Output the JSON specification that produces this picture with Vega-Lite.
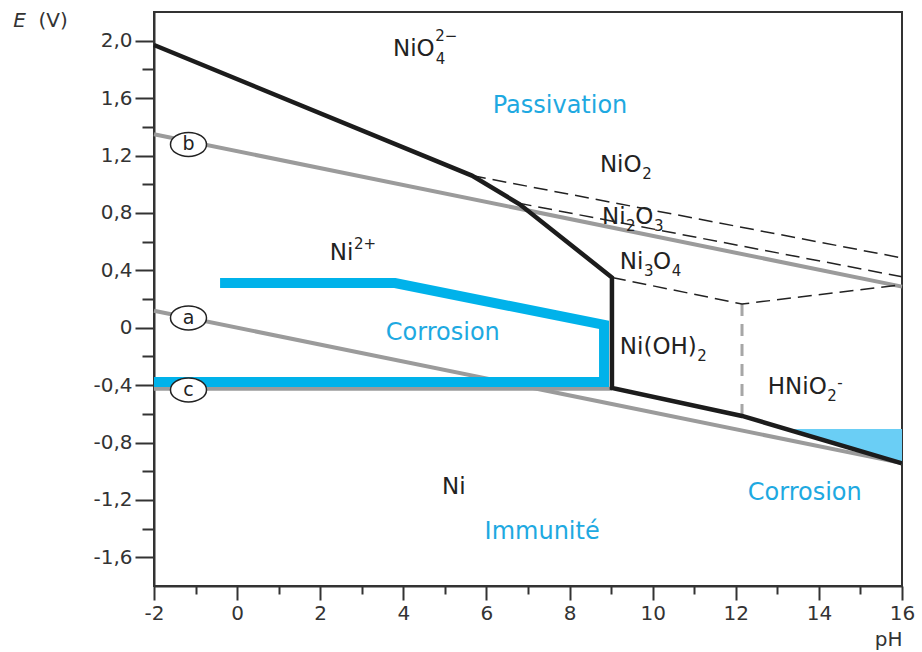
{
  "$schema": "https://vega.github.io/schema/vega-lite/v6.json",
  "width": 748,
  "height": 574,
  "autosize": {"type": "none"},
  "padding": {"left": 154, "top": 12, "right": 20, "bottom": 66},
  "background": "white",
  "config": {
    "view": {"stroke": "#333333", "strokeWidth": 2},
    "axis": {
      "domainColor": "#333333", "domainWidth": 2,
      "tickColor": "#333333", "tickWidth": 2,
      "labelFont": "DejaVu Sans", "labelFontSize": 20, "labelColor": "#333333",
      "titleFont": "DejaVu Sans", "titleFontSize": 20, "titleColor": "#333333", "titleFontWeight": "normal",
      "grid": false
    },
    "text": {"font": "DejaVu Sans"}
  },
  "datasets": {
    "fill": [
      {"x": 13.25, "y": -0.706, "y2": -0.706},
      {"x": 16, "y": -0.945, "y2": -0.706}
    ],
    "water": [
      {"line": "a", "x": -2, "y": 0.118},
      {"line": "a", "x": 16, "y": -0.944},
      {"line": "b", "x": -2, "y": 1.348},
      {"line": "b", "x": 16, "y": 0.286},
      {"line": "c", "x": -2, "y": -0.425},
      {"line": "c", "x": 9.02, "y": -0.425}
    ],
    "blue": [
      {"o": 1, "x": -0.41, "y": 0.311},
      {"o": 2, "x": 3.8, "y": 0.311},
      {"o": 3, "x": 8.83, "y": 0.02},
      {"o": 4, "x": 8.83, "y": -0.378},
      {"o": 5, "x": -2, "y": -0.378}
    ],
    "vdash": [
      {"o": 1, "x": 12.15, "y": 0.165},
      {"o": 2, "x": 12.15, "y": -0.615}
    ],
    "dashed": [
      {"line": "d1", "o": 1, "x": 5.65, "y": 1.06},
      {"line": "d1", "o": 2, "x": 16, "y": 0.486},
      {"line": "d2", "o": 1, "x": 6.75, "y": 0.869},
      {"line": "d2", "o": 2, "x": 16, "y": 0.355},
      {"line": "d3", "o": 1, "x": 9.02, "y": 0.35},
      {"line": "d3", "o": 2, "x": 12.15, "y": 0.165},
      {"line": "d3", "o": 3, "x": 16, "y": 0.3}
    ],
    "boundary": [
      {"o": 1, "x": -2, "y": 1.97},
      {"o": 2, "x": 5.65, "y": 1.06},
      {"o": 3, "x": 6.8, "y": 0.86},
      {"o": 4, "x": 9.02, "y": 0.35},
      {"o": 5, "x": 9.02, "y": -0.42},
      {"o": 6, "x": 12.15, "y": -0.615},
      {"o": 7, "x": 16, "y": -0.945}
    ],
    "circles": [
      {"t": "a", "x": -1.17, "y": 0.068},
      {"t": "b", "x": -1.17, "y": 1.277},
      {"t": "c", "x": -1.17, "y": -0.434}
    ],
    "chem": [
      {"t": "NiO", "x": 3.75, "y": 1.939},
      {"t": "NiO", "x": 8.73, "y": 1.134},
      {"t": "Ni", "x": 8.78, "y": 0.77},
      {"t": "O", "x": 9.58, "y": 0.77},
      {"t": "Ni", "x": 9.21, "y": 0.458},
      {"t": "O", "x": 10.01, "y": 0.458},
      {"t": "Ni", "x": 2.23, "y": 0.52},
      {"t": "Ni(OH)", "x": 9.21, "y": -0.134},
      {"t": "HNiO", "x": 12.77, "y": -0.413},
      {"t": "Ni", "x": 4.93, "y": -1.11}
    ],
    "small": [
      {"t": "2−", "x": 4.77, "y": 2.035},
      {"t": "4", "x": 4.78, "y": 1.87},
      {"t": "2", "x": 9.75, "y": 1.074},
      {"t": "2", "x": 9.36, "y": 0.71},
      {"t": "3", "x": 10.03, "y": 0.71},
      {"t": "3", "x": 9.79, "y": 0.398},
      {"t": "4", "x": 10.46, "y": 0.398},
      {"t": "2+", "x": 2.81, "y": 0.585},
      {"t": "2", "x": 11.07, "y": -0.194},
      {"t": "2", "x": 14.2, "y": -0.473},
      {"t": "-", "x": 14.44, "y": -0.385}
    ],
    "blueText": [
      {"t": "Passivation", "x": 7.77, "y": 1.548},
      {"t": "Corrosion", "x": 4.95, "y": -0.037},
      {"t": "Corrosion", "x": 13.66, "y": -1.152},
      {"t": "Immunité", "x": 7.34, "y": -1.424}
    ],
    "titleE": [{"t": "E", "x": -5.39, "y": 2.137}],
    "titleV": [{"t": "(V)", "x": -4.78, "y": 2.137}]
  },
  "encoding": {
    "x": {
      "field": "x", "type": "quantitative",
      "scale": {"domain": [-2, 16], "nice": false, "zero": false},
      "axis": {
        "values": [-2, -1, 0, 1, 2, 3, 4, 5, 6, 7, 8, 9, 10, 11, 12, 13, 14, 15, 16],
        "tickSize": {"condition": {"test": "datum.value % 2 == 0", "value": 14}, "value": 8},
        "labelExpr": "datum.value % 2 == 0 ? toString(datum.value) : ''",
        "labelFlush": false,
        "labelPadding": 3,
        "title": "pH",
        "titleAnchor": "end",
        "titlePadding": 6
      }
    },
    "y": {
      "field": "y", "type": "quantitative",
      "scale": {"domain": [-1.8, 2.2], "nice": false, "zero": false},
      "axis": {
        "values": [-1.6, -1.4, -1.2, -1.0, -0.8, -0.6, -0.4, -0.2, 0, 0.2, 0.4, 0.6, 0.8, 1.0, 1.2, 1.4, 1.6, 1.8, 2.0],
        "tickSize": {"condition": {"test": "abs(round(datum.value * 5)) % 2 == 0", "value": 19}, "value": 12},
        "labelExpr": "abs(round(datum.value * 5)) % 2 == 0 ? (abs(datum.value) < 0.001 ? '0' : replace(replace(format(datum.value, '.1f'), '.', ','), '−', '-')) : ''",
        "labelPadding": 3,
        "labelFlush": false,
        "title": null
      }
    }
  },
  "layer": [
    {"data": {"name": "fill"}, "mark": {"type": "area", "color": "#6ACEF5"}, "encoding": {"y2": {"field": "y2"}}},
    {"data": {"name": "water"}, "mark": {"type": "line", "color": "#9b9b9b", "strokeWidth": 4}, "encoding": {"detail": {"field": "line"}}},
    {"data": {"name": "blue"}, "mark": {"type": "line", "color": "#00B2EA", "strokeWidth": 10, "strokeJoin": "miter"}, "encoding": {"order": {"field": "o"}}},
    {"data": {"name": "vdash"}, "mark": {"type": "line", "color": "#a6a6a6", "strokeWidth": 3, "strokeDash": [12, 8]}, "encoding": {"order": {"field": "o"}}},
    {"data": {"name": "dashed"}, "mark": {"type": "line", "color": "#222222", "strokeWidth": 1.5, "strokeDash": [14, 7]}, "encoding": {"detail": {"field": "line"}, "order": {"field": "o"}}},
    {"data": {"name": "boundary"}, "mark": {"type": "line", "color": "#1c1c1c", "strokeWidth": 4.5, "strokeJoin": "miter"}, "encoding": {"order": {"field": "o"}}},
    {"data": {"name": "circles"}, "mark": {"type": "point", "shape": "M-1,0A1,0.667,0,1,0,1,0A1,0.667,0,1,0,-1,0Z", "size": 1296, "filled": true, "fill": "white", "stroke": "#222222", "strokeWidth": 1.5, "opacity": 1}},
    {"data": {"name": "circles"}, "mark": {"type": "text", "fontSize": 19, "color": "#222222", "baseline": "middle", "align": "center"}, "encoding": {"text": {"field": "t"}}},
    {"data": {"name": "chem"}, "mark": {"type": "text", "fontSize": 23, "color": "#222222", "baseline": "middle", "align": "left"}, "encoding": {"text": {"field": "t"}}},
    {"data": {"name": "small"}, "mark": {"type": "text", "fontSize": 15, "color": "#222222", "baseline": "middle", "align": "left"}, "encoding": {"text": {"field": "t"}}},
    {"data": {"name": "blueText"}, "mark": {"type": "text", "fontSize": 24, "color": "#1EA9E1", "baseline": "middle", "align": "center"}, "encoding": {"text": {"field": "t"}}},
    {"data": {"name": "titleE"}, "mark": {"type": "text", "fontSize": 20, "fontStyle": "italic", "color": "#333333", "baseline": "middle", "align": "left"}, "encoding": {"text": {"field": "t"}}},
    {"data": {"name": "titleV"}, "mark": {"type": "text", "fontSize": 20, "color": "#333333", "baseline": "middle", "align": "left"}, "encoding": {"text": {"field": "t"}}}
  ]
}
